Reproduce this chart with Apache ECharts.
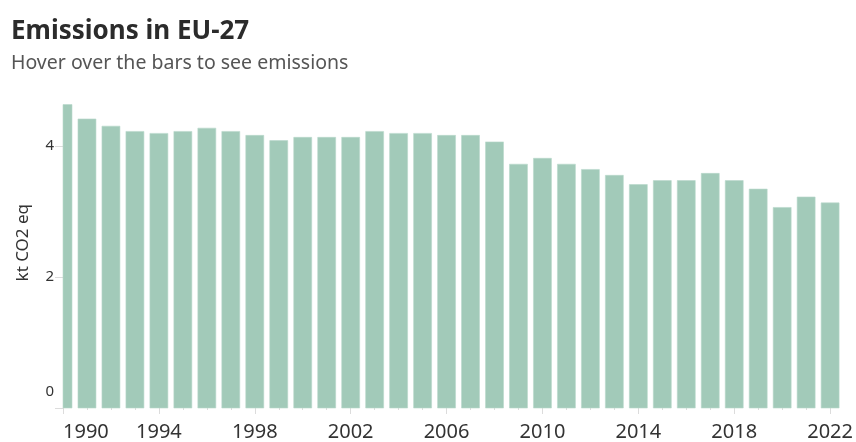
<!DOCTYPE html>
<html>
<head>
<meta charset="utf-8">
<script src="https://cdn.jsdelivr.net/npm/echarts@6/dist/echarts.min.js"></script>
<style>
  html, body { margin: 0; padding: 0; background: #fff; }
  #chart { width: 856px; height: 442px; }
</style>
</head>
<body>
<div id="chart"></div>
<script>
// Annual greenhouse gas emissions, EU-27
const years = [
  1990, 1991, 1992, 1993, 1994, 1995, 1996, 1997, 1998, 1999, 2000,
  2001, 2002, 2003, 2004, 2005, 2006, 2007, 2008, 2009, 2010, 2011,
  2012, 2013, 2014, 2015, 2016, 2017, 2018, 2019, 2020, 2021, 2022
];
const emissions = [
  4.63, 4.41, 4.30, 4.22, 4.19, 4.22, 4.27, 4.22, 4.16, 4.08, 4.13,
  4.13, 4.13, 4.22, 4.19, 4.19, 4.16, 4.16, 4.06, 3.72, 3.81, 3.72,
  3.64, 3.55, 3.41, 3.47, 3.47, 3.58, 3.47, 3.34, 3.06, 3.22, 3.13
];
const yearLabels = [1990, 1994, 1998, 2002, 2006, 2010, 2014, 2018, 2022];
const valueLabels = [0, 2, 4];

const font = '"Noto Sans", "Open Sans", sans-serif';
const tickColor = '#dcdcdc';
const barColor = '#a2cab9';

const chart = echarts.init(document.getElementById('chart'), null, { renderer: 'canvas' });

// Bars are drawn as a custom series so that they are clipped to the plot area
function renderBar(params, api) {
  const base = api.coord([api.value(0), 0]);
  const top = api.coord([api.value(0), api.value(1)]);
  const width = api.size([0.75, 0])[0];
  const cs = params.coordSys;
  const shape = echarts.graphic.clipRectByRect(
    { x: base[0] - width / 2, y: top[1], width: width, height: base[1] - top[1] },
    { x: cs.x, y: cs.y, width: cs.width, height: cs.height }
  );
  return shape && {
    type: 'rect',
    shape: shape,
    style: { fill: barColor, stroke: '#b9d8cb', lineWidth: 0.6 }
  };
}

chart.setOption({
  animation: false,
  title: {
    text: 'Emissions in EU-27',
    subtext: 'Hover over the bars to see emissions',
    left: 6,
    top: 14,
    itemGap: 8,
    textStyle: { fontFamily: font, fontSize: 26, fontWeight: 'bold', color: '#2b2b2b' },
    subtextStyle: { fontFamily: font, fontSize: 19.5, color: '#555' }
  },
  tooltip: { trigger: 'item' },
  grid: { left: 63, right: 13, top: 93.4, bottom: 33 },
  xAxis: [
    {
      type: 'value',
      min: 1990,
      max: 2022.5,
      axisLine: { show: false },
      splitLine: { show: false },
      axisTick: { show: true, customValues: yearLabels, length: 6, lineStyle: { color: tickColor } },
      axisLabel: {
        customValues: yearLabels,
        alignMinLabel: 'left',
        margin: 14,
        fontFamily: font, fontSize: 20, color: '#333',
        formatter: v => String(v)
      }
    },
    {
      type: 'value',
      position: 'bottom',
      min: 1990,
      max: 2022.5,
      axisLine: { show: false },
      splitLine: { show: false },
      axisTick: { show: true, customValues: years, length: 2, lineStyle: { color: tickColor } },
      axisLabel: { show: false }
    }
  ],
  yAxis: {
    type: 'value',
    min: 0,
    max: 4.8,
    name: 'kt CO2 eq',
    nameLocation: 'middle',
    nameGap: 31,
    nameTextStyle: { fontFamily: font, fontSize: 17, color: '#333', padding: [0, 0, 0, 16] },
    axisLine: { show: false },
    splitLine: { show: false },
    axisTick: { show: true, customValues: valueLabels, length: 8, lineStyle: { color: tickColor } },
    axisLabel: {
      customValues: valueLabels,
      margin: 9,
      fontFamily: font, fontSize: 15, color: '#333',
      formatter: v => v === 0 ? '{z|0}' : String(v),
      rich: { z: { fontFamily: font, fontSize: 15, color: '#333', padding: [0, 0, 32, 0] } }
    }
  },
  series: [{
    type: 'custom',
    xAxisIndex: 0,
    renderItem: renderBar,
    encode: { x: 0, y: 1 },
    data: years.map((y, i) => [y, emissions[i]])
  }]
});
</script>
</body>
</html>
